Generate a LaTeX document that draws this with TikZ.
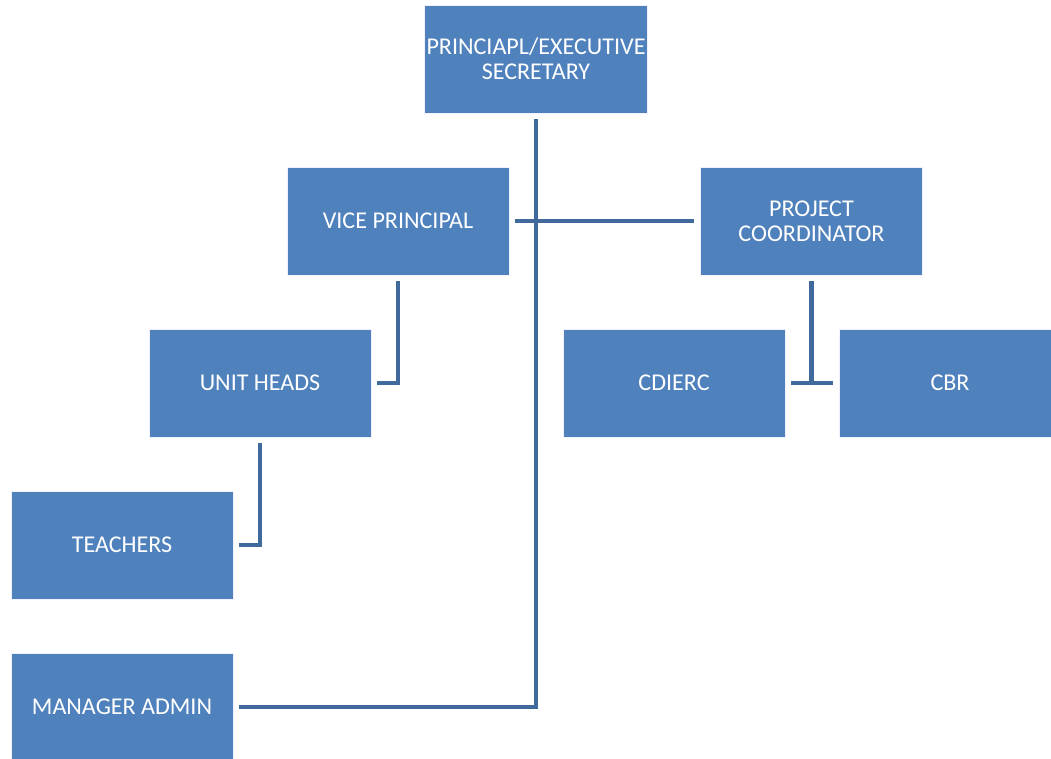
\documentclass[tikz,border=0pt]{standalone}
\usepackage{fontspec}
\setmainfont{Carlito}
\usepackage{xcolor}
\usepackage{tikz}
\definecolor{boxblue}{HTML}{4F81BD}
\definecolor{lineblue}{HTML}{40699C}

\begin{document}
\begin{tikzpicture}[x=0.02cm,y=-0.02cm,
    unit/.style={rectangle,
          draw = blue!6,
          line width = 0.5pt,
          fill = boxblue,
          text = white,
          align = center,
          inner sep = 1pt,
          font = \fontsize{13.7}{14.2}\selectfont,
          minimum width = 4.44cm,
          minimum height = 2.16cm},
    link/.style={draw = lineblue, line width = 2.3pt}]

    \useasboundingbox (0,0) rectangle (1051,758);

    \node[unit] (princ) at (536,59) {PRINCIAPL/EXECUTIVE\\SECRETARY};

    \node[unit] (vp) at (398,221) {VICE PRINCIPAL};
    \node[unit] (pc) at (811.5,221) {PROJECT\\COORDINATOR};

    \node[unit] (uh) at (260,383) {UNIT HEADS};
    \node[unit] (cdierc) at (674,383) {CDIERC};
    \node[unit] (cbr) at (950,383) {CBR};

    \node[unit] (teach) at (122,545) {TEACHERS};
    \node[unit] (mgr) at (122,707) {MANAGER ADMIN};

    %principal trunk
    \draw[link] ([yshift=-3.4pt]princ.south) |- ([xshift=3.4pt]mgr.east);
    \draw[link] ([xshift=3.4pt]vp.east) -- ([xshift=-3.4pt]pc.west);

    %vice principal side
    \draw[link] ([yshift=-3.4pt]vp.south) |- ([xshift=3.4pt]uh.east);
    \draw[link] ([yshift=-3.4pt]uh.south) |- ([xshift=3.4pt]teach.east);

    %coordinator side
    \coordinate (pcfoot) at (pc.south |- cbr.west);
    \draw[link] ([yshift=-3.4pt]pc.south) -- (pcfoot);
    \draw[link] ([xshift=3.4pt]cdierc.east) -- ([xshift=-3.4pt]cbr.west);

\end{tikzpicture}
\end{document}
